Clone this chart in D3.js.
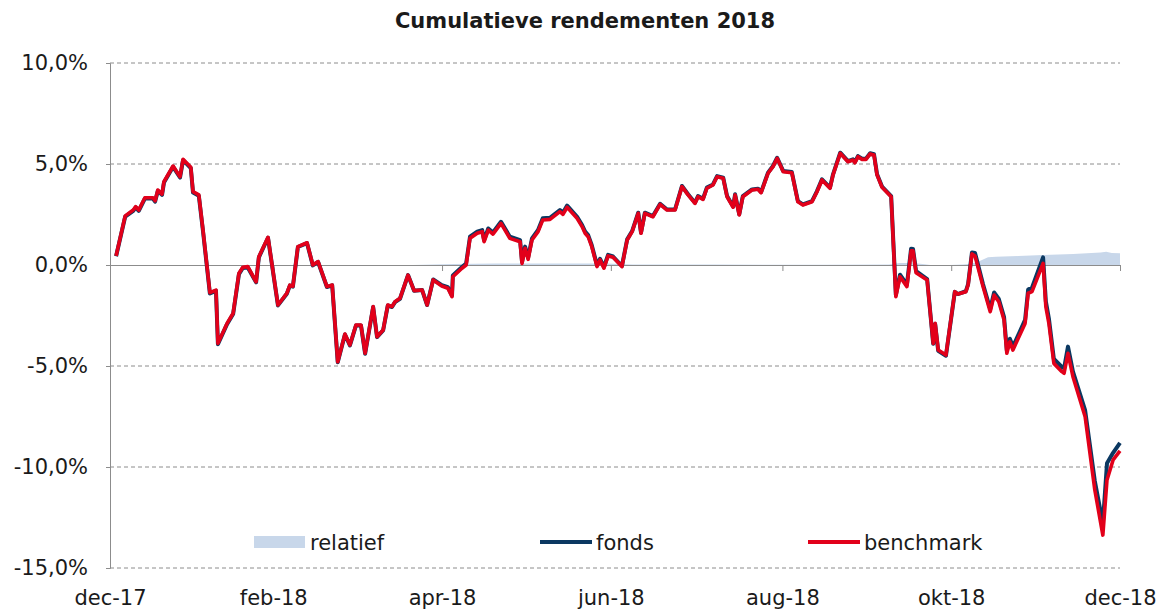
<!DOCTYPE html>
<html>
<head>
<meta charset="utf-8">
<script src="https://cdn.jsdelivr.net/npm/d3@7"></script>
<style>
  body { margin: 0; background: #fff; }
  svg { display: block; }
  text { font-family: "DejaVu Sans", Verdana, sans-serif; fill: #1a1a1a; }
</style>
</head>
<body>
<svg id="chart" width="1162" height="610"></svg>
<script>
// days since 31-12-2017 (x position of each observation)
const days = [2.2,5.5,8.4,9.3,10.4,12.6,15.5,16.3,17.3,18.8,19.5,22.8,25.3,26.4,29.2,30.0,32.1,33.6,36.1,38.3,39.0,42.3,44.5,46.6,48.0,49.8,52.8,53.8,57.1,60.7,63.9,65.0,66.1,67.9,71.2,73.3,75.2,78.4,80.3,82.3,84.9,86.7,88.9,90.7,92.2,95.1,96.5,98.7,100.4,101.9,103.0,104.8,107.7,109.9,112.8,114.6,116.8,119.9,122.1,123.6,123.9,127.2,128.7,130.1,132.7,134.5,135.2,136.7,138.4,141.3,144.5,148.2,148.9,150.0,151.1,152.5,154.7,156.4,159.0,162.6,163.7,165.2,168.8,170.6,171.7,172.8,174.1,176.0,177.1,178.5,180.0,181.8,185.0,186.9,188.7,190.9,191.9,193.3,196.2,198.8,201.3,204.2,206.7,208.9,211.4,212.5,214.3,215.7,217.9,219.4,221.6,223.0,225.2,225.9,227.4,228.7,232.0,234.2,235.3,237.8,239.6,241.1,243.3,246.4,248.6,250.4,253.7,255.5,257.3,260.2,261.3,263.9,266.7,268.5,269.2,270.3,271.8,273.2,274.7,276.1,277.2,279.0,282.3,284.0,285.5,288.0,289.5,290.2,291.3,295.3,297.5,298.2,299.3,302.1,305.3,306.4,309.3,310.1,311.5,312.6,315.5,318.1,319.5,321.2,323.1,324.1,325.2,326.3,330.7,331.8,333.2,337.2,338.2,339.3,341.1,344.0,344.8,346.2,348.0,352.4,355.9,358.8,360.3,362.5,365.0];

const benchmark = [0.45,2.43,2.72,2.89,2.72,3.33,3.33,3.18,3.71,3.51,4.12,4.90,4.37,5.23,4.84,3.63,3.47,1.73,-1.37,-1.24,-3.88,-2.89,-2.39,-0.41,-0.11,-0.08,-0.83,0.41,1.37,-1.98,-1.40,-1.00,-1.05,0.91,1.10,0.00,0.17,-1.07,-0.99,-4.79,-3.42,-3.96,-2.97,-2.97,-4.37,-2.06,-3.55,-3.22,-1.98,-2.06,-1.82,-1.65,-0.50,-1.27,-1.24,-1.98,-0.74,-1.04,-1.15,-1.57,-0.58,-0.16,0.00,1.32,1.57,1.65,1.15,1.73,1.53,2.06,1.32,1.15,0.08,0.83,0.28,1.24,1.65,2.23,2.26,2.64,2.51,2.86,2.31,1.90,1.57,1.40,0.91,-0.08,0.25,-0.16,0.45,0.38,-0.08,1.24,1.65,2.56,1.57,2.56,2.39,3.00,2.72,2.72,3.88,3.47,3.05,3.38,3.25,3.80,3.96,4.37,4.29,3.38,2.86,3.47,2.48,3.38,3.71,3.75,3.58,4.54,4.87,5.28,4.62,4.57,3.13,2.97,3.13,3.63,4.21,3.80,4.46,5.53,5.11,5.20,5.06,5.36,5.23,5.23,5.50,5.45,4.46,3.85,3.38,-1.57,-0.58,-1.07,0.70,0.70,-0.38,-0.74,-3.88,-2.89,-4.21,-4.46,-1.32,-1.44,-1.32,-0.99,0.55,0.45,-1.07,-2.31,-1.49,-1.82,-2.72,-4.37,-3.80,-4.21,-2.89,-1.40,-1.32,0.08,-2.06,-2.89,-4.87,-5.28,-5.36,-4.37,-5.53,-7.51,-11.14,-13.37,-10.64,-9.65,-9.20];

const fonds = [0.43,2.40,2.68,2.85,2.68,3.29,3.29,3.14,3.67,3.47,4.08,4.86,4.33,5.19,4.80,3.59,3.43,1.69,-1.41,-1.28,-3.92,-2.93,-2.43,-0.45,-0.15,-0.12,-0.86,0.38,1.35,-2.00,-1.42,-1.02,-1.07,0.89,1.08,-0.02,0.15,-1.09,-1.01,-4.81,-3.44,-3.98,-2.99,-2.99,-4.39,-2.08,-3.57,-3.24,-2.00,-2.08,-1.84,-1.67,-0.50,-1.27,-1.24,-1.98,-0.72,-1.00,-1.10,-1.51,-0.52,-0.10,0.07,1.40,1.65,1.73,1.23,1.81,1.61,2.14,1.40,1.23,0.16,0.91,0.36,1.32,1.73,2.31,2.34,2.72,2.59,2.94,2.39,1.98,1.65,1.48,0.98,-0.01,0.31,-0.10,0.50,0.42,-0.05,1.27,1.68,2.59,1.60,2.59,2.42,3.03,2.75,2.75,3.91,3.50,3.08,3.41,3.28,3.83,3.99,4.40,4.32,3.41,2.89,3.50,2.51,3.41,3.74,3.78,3.61,4.57,4.90,5.31,4.65,4.60,3.16,3.00,3.16,3.66,4.24,3.83,4.49,5.56,5.14,5.23,5.09,5.39,5.26,5.26,5.53,5.48,4.49,3.88,3.41,-1.48,-0.48,-0.97,0.80,0.79,-0.30,-0.70,-3.90,-2.92,-4.25,-4.49,-1.33,-1.44,-1.30,-0.95,0.62,0.60,-0.95,-2.18,-1.36,-1.68,-2.58,-4.22,-3.65,-4.05,-2.72,-1.22,-1.12,0.38,-1.80,-2.65,-4.65,-5.05,-5.12,-4.04,-5.28,-7.20,-10.70,-12.79,-9.82,-9.30,-8.80];

// relatief (days since 31-12-2017)
const relDays = [0,9.9,29.8,49.7,69.6,89.5,109.4,124.3,139.2,159.1,179,189,218.8,258.6,281.5,285.4,290.4,294.4,298.4,303.3,308.3,311.3,314.3,317.3,320.2,328.2,337.2,348.1,358,360,362,365];
const relatief = [0,-0.03,-0.05,-0.04,-0.02,-0.02,0,0.05,0.08,0.08,0.07,0.03,0.02,0.01,0.03,0.1,0.1,0.04,-0.04,0,0.03,0.06,0.2,0.38,0.41,0.44,0.5,0.54,0.62,0.66,0.6,0.58];

const yTicks = [10, 5, 0, -5, -10, -15];
const xTickDays = [0, 59, 120, 181, 243, 304, 365];
const xTickLabels = ["dec-17", "feb-18", "apr-18", "jun-18", "aug-18", "okt-18", "dec-18"];
const seriesNames = ["relatief", "fonds", "benchmark"];
const colors = { relatief: "#c8d7ea", fonds: "#0b3861", benchmark: "#e2001a" };

const svg = d3.select("#chart");
const plotLeft = 110, plotRight = 1120, plotTop = 63, plotBottom = 568;

const x = d3.scaleLinear().domain([0, 365]).range([plotLeft, plotRight]);
const y = d3.scaleLinear().domain([-15, 10]).range([plotBottom, plotTop]);

const nl = d3.formatLocale({ decimal: ",", thousands: ".", grouping: [3], currency: ["€", ""], minus: "-" });
const pct = nl.format(".1f");

// title
svg.append("text")
  .attr("x", 585).attr("y", 28)
  .attr("text-anchor", "middle")
  .style("font-weight", "bold")
  .style("font-size", "21px")
  .text("Cumulatieve rendementen 2018");

// gridlines (dashed)
svg.append("g").selectAll("line")
  .data(yTicks.filter(d => d !== 0))
  .join("line")
  .attr("x1", plotLeft).attr("x2", plotRight)
  .attr("y1", d => y(d)).attr("y2", d => y(d))
  .attr("stroke", "#8c8c8c")
  .attr("stroke-width", 1)
  .attr("stroke-dasharray", "4,3");

// y axis
const yAxis = d3.axisLeft(y)
  .tickValues(yTicks)
  .tickSize(4)
  .tickPadding(18)
  .tickFormat(d => pct(d) + "%");
const gy = svg.append("g").attr("transform", `translate(${plotLeft},0)`).call(yAxis);
gy.select(".domain").attr("stroke", "#8c8c8c");
gy.selectAll(".tick line").attr("stroke", "#8c8c8c");
gy.selectAll(".tick text").style("font-size", "21px").attr("fill", "#1a1a1a");

// relatief area
const area = d3.area()
  .x((d, i) => x(relDays[i]))
  .y0(y(0))
  .y1(d => y(d));
svg.append("path")
  .datum(relatief)
  .attr("fill", colors.relatief)
  .attr("d", area);

// zero axis with month ticks
const xAxis = d3.axisBottom(x)
  .tickValues(xTickDays)
  .tickSize(6)
  .tickFormat("");
const gx = svg.append("g").attr("transform", `translate(0,${y(0)})`).call(xAxis);
gx.select(".domain").attr("stroke", "#8c8c8c");
gx.selectAll(".tick line").attr("stroke", "#8c8c8c");

// x labels under the chart
const xLab = d3.axisBottom(x).tickValues(xTickDays).tickSize(0).tickPadding(22)
  .tickFormat((d, i) => xTickLabels[i]);
const gxl = svg.append("g").attr("transform", `translate(0,${plotBottom})`).call(xLab);
gxl.select(".domain").remove();
gxl.selectAll(".tick text").style("font-size", "21px").attr("fill", "#1a1a1a");

// lines
const line = d3.line()
  .x((d, i) => x(days[i]))
  .y(d => y(d));
svg.append("path").datum(fonds)
  .attr("fill", "none").attr("stroke", colors.fonds)
  .attr("stroke-width", 4).attr("stroke-linejoin", "round")
  .attr("d", line);
svg.append("path").datum(benchmark)
  .attr("fill", "none").attr("stroke", colors.benchmark)
  .attr("stroke-width", 3.6).attr("stroke-linejoin", "round")
  .attr("d", line);

// legend
const legendX = [254, 540, 808];
const lg = svg.append("g").selectAll("g").data(seriesNames).join("g")
  .attr("transform", (d, i) => `translate(${legendX[i]},542)`);
lg.each(function(d) {
  const g = d3.select(this);
  if (d === "relatief") {
    g.append("rect").attr("x", 0).attr("y", -6).attr("width", 51).attr("height", 12)
      .attr("fill", colors.relatief);
  } else {
    g.append("line").attr("x1", 0).attr("x2", 52).attr("y1", 0).attr("y2", 0)
      .attr("stroke", colors[d]).attr("stroke-width", 4);
  }
  g.append("text").attr("x", 56).attr("y", 7.5).style("font-size", "21px").text(d);
});
</script>
</body>
</html>
